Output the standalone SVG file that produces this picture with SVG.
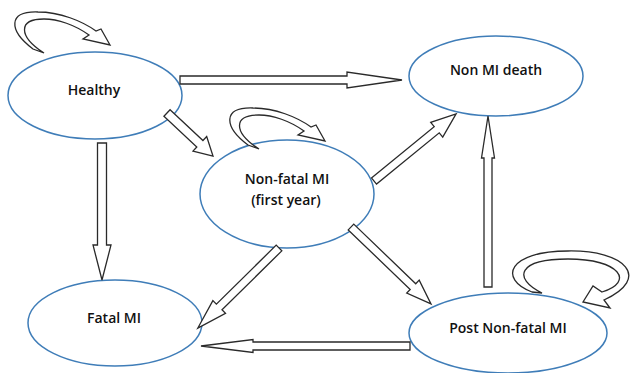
<svg xmlns="http://www.w3.org/2000/svg" width="630" height="373" viewBox="0 0 630 373">
<style>
.node{fill:#fff;stroke:#3f7db8;stroke-width:1.5}
.lbl{font-family:"Open Sans","Liberation Sans",sans-serif;font-size:14px;font-weight:600;fill:#111;text-anchor:middle}
.arr{fill:#fff;stroke:#2a2a2a;stroke-width:1.3;stroke-linejoin:miter}
</style>
<defs>
<path id="loop" d="M33,49 C8,30 8,11 38,12 C60,12 82,21 96,31 L101,29 L110,45 L83,39 L89,35 C75,25 58,19 44,19 C18,19 18,36 44,53 Z"/>
</defs>
<rect width="630" height="373" fill="#fff"/>
<g id="healthy">
<ellipse class="node" cx="95" cy="95.5" rx="87" ry="43.5"/>
<text class="lbl" x="94" y="95">Healthy</text>
</g>
<g id="nonmideath">
<ellipse class="node" cx="496" cy="76" rx="87" ry="40"/>
<text class="lbl" x="496" y="75">Non MI death</text>
</g>
<g id="nonfatalmi">
<ellipse class="node" cx="287" cy="194" rx="87" ry="54"/>
<text class="lbl" x="287" y="184">Non-fatal MI</text>
<text class="lbl" x="286" y="205">(first year)</text>
</g>
<g id="fatalmi">
<ellipse class="node" cx="115" cy="323" rx="87" ry="43"/>
<text class="lbl" x="114" y="323">Fatal MI</text>
</g>
<g id="postnonfatalmi">
<ellipse class="node" cx="508" cy="333" rx="99" ry="40"/>
<text class="lbl" x="508" y="333">Post Non-fatal MI</text>
</g>
<g id="connectors">
<polygon class="arr" transform="translate(180,80)" points="0,-4 167,-4 167,-8 222,0 167,8 167,4 0,4"/>
<polygon class="arr" transform="translate(167,113) rotate(43.1)" points="0,-4.5 45,-4.5 45,-10 63,0 45,10 45,4.5 0,4.5"/>
<polygon class="arr" transform="translate(102,143) rotate(90)" points="0,-4.5 102,-4.5 102,-9 137,0 102,9 102,4.5 0,4.5"/>
<polygon class="arr" transform="translate(279,248) rotate(135.4)" points="0,-4 84,-4 84,-9 114,0 84,9 84,4 0,4"/>
<polygon class="arr" transform="translate(351,227) rotate(43.9)" points="0,-4 86,-4 86,-9 111,0 86,9 86,4 0,4"/>
<polygon class="arr" transform="translate(374,181) rotate(-39.25)" points="0,-4 81,-4 81,-9.5 106,0 81,9.5 81,4 0,4"/>
<polygon class="arr" transform="translate(488,287) rotate(-90)" points="0,-4 129,-4 129,-6.5 171,0 129,6.5 129,4 0,4"/>
<polygon class="arr" transform="translate(410,346) rotate(180)" points="0,-4 157,-4 157,-6.5 209,0 157,6.5 157,4 0,4"/>
<use href="#loop" class="arr"/>
<use href="#loop" class="arr" transform="translate(215,96)"/>
<path class="arr" d="M532,292 C498,279 508,251 568,251 C625,250 652,278 604,300 L610,308 L583,302 L593,286 L602,292 C635,282 620,259 568,259 C518,259 512,278 542,293 Z"/>
</g>
</svg>
